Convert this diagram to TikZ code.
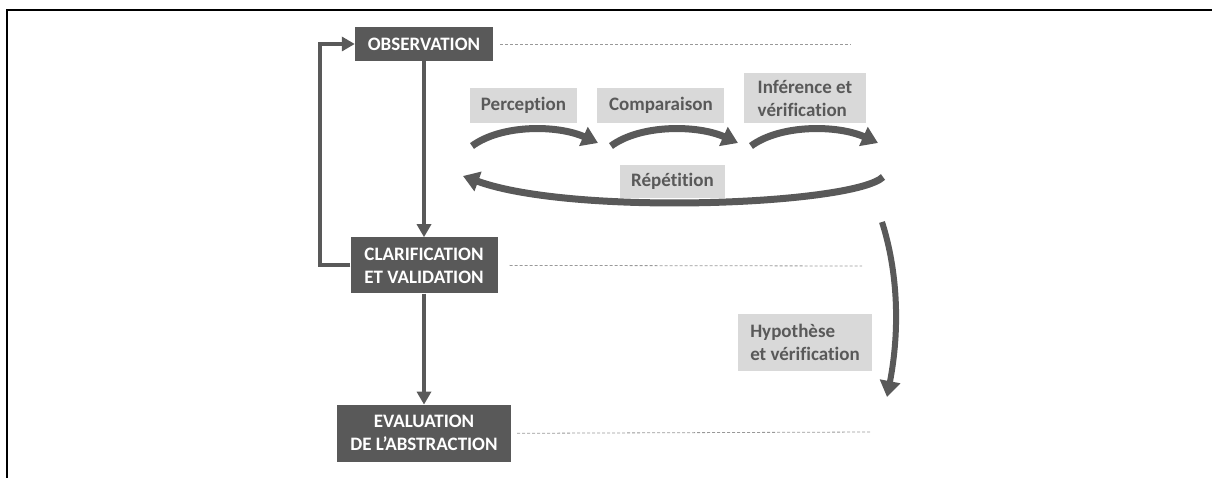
\documentclass[tikz,border=0pt]{standalone}
\usepackage{fontspec}
\setmainfont{Carlito}[Ligatures=NoCommon]
\usetikzlibrary{arrows.meta, positioning}
\definecolor{boxgray}{HTML}{595959}
\definecolor{tagfill}{HTML}{D9D9D9}
\definecolor{guidegray}{HTML}{999999}

\begin{document}
\begin{tikzpicture}[x=1pt, y=-1pt,
stagenode/.style={fill=boxgray, text=white, font=\fontsize{19}{23}\selectfont\bfseries, align=center, inner sep=0pt},
tagnode/.style={fill=tagfill, text=boxgray, font=\fontsize{19}{23}\selectfont\bfseries, inner sep=0pt},
flowarrow/.style={draw=boxgray, line width=4pt, -{Triangle[length=13pt, width=14pt]}},
cyclearrow/.style={draw=boxgray, line width=7pt, -{Triangle[length=16pt, width=20pt]}},
guideline/.style={draw=guidegray, line width=0.8pt, dash pattern=on 3pt off 2pt}]
\useasboundingbox (0,0) rectangle (1212,478);
\draw [line width=2.5pt] (7,478) -- (7,10) -- (1212,10);

\node (obs) [stagenode, minimum width=138pt, minimum height=34pt] at (424,44) {OBSERVATION};
\node (clar) [stagenode, minimum width=147pt, minimum height=56pt, below=176pt of obs] {CLARIFICATION\\ET VALIDATION};
\node (eval) [stagenode, minimum width=174pt, minimum height=57pt, below=111pt of clar] {EVALUATION\\DE L’ABSTRACTION};

\node (perc) [tagnode, minimum width=107pt, minimum height=35pt] at (523.5,105.5) {Perception};
\node (comp) [tagnode, minimum width=127pt, minimum height=35pt, right=20pt of perc] {Comparaison};
\node (infer) [tagnode, minimum width=122pt, minimum height=50pt, align=left] at (805,98) {Inférence et\\vérification};
\node (rep) [tagnode, minimum width=105pt, minimum height=33pt] at (672.5,181.5) {Répétition};
\node (hyp) [tagnode, minimum width=134pt, minimum height=57pt, align=left] at (805,342.5) {Hypothèse\\et vérification};

\coordinate (obsend) at (851,44);
\coordinate (clarend) at (862,266);
\coordinate (evalend) at (870,432);
\coordinate (percstart) at (472,146);
\coordinate (percend) at (598,143);
\coordinate (compstart) at (611,146);
\coordinate (compend) at (738,143);
\coordinate (inferstart) at (751,146);
\coordinate (inferend) at (878,143);
\coordinate (repstart) at (883,177);
\coordinate (repend) at (463,176);
\coordinate (hypstart) at (882,222);
\coordinate (hypend) at (887,397);

\draw [flowarrow] (obs) -- (clar);
\draw [flowarrow] (clar) -- (eval);
\draw [flowarrow] (clar.west) -- ++(-30,0) |- (obs.west);
\draw [guideline] ([xshift=7pt]obs.east) -- (obsend);
\draw [guideline] ([xshift=12pt]clar.east) -- (clarend);
\draw [guideline] ([xshift=6pt]eval.east) -- (evalend);

\draw [cyclearrow] (percstart) .. controls +(30,-22) and +(-40,-18) .. (percend);
\draw [cyclearrow] (compstart) .. controls +(30,-22) and +(-40,-18) .. (compend);
\draw [cyclearrow] (inferstart) .. controls +(30,-22) and +(-40,-18) .. (inferend);
\draw [cyclearrow] (repstart) .. controls +(-30,28) and +(110,40) .. (repend);
\draw [cyclearrow, line width=6pt] (hypstart) .. controls +(16,50) and +(13,-67) .. (hypend);

\end{tikzpicture}
\end{document}
